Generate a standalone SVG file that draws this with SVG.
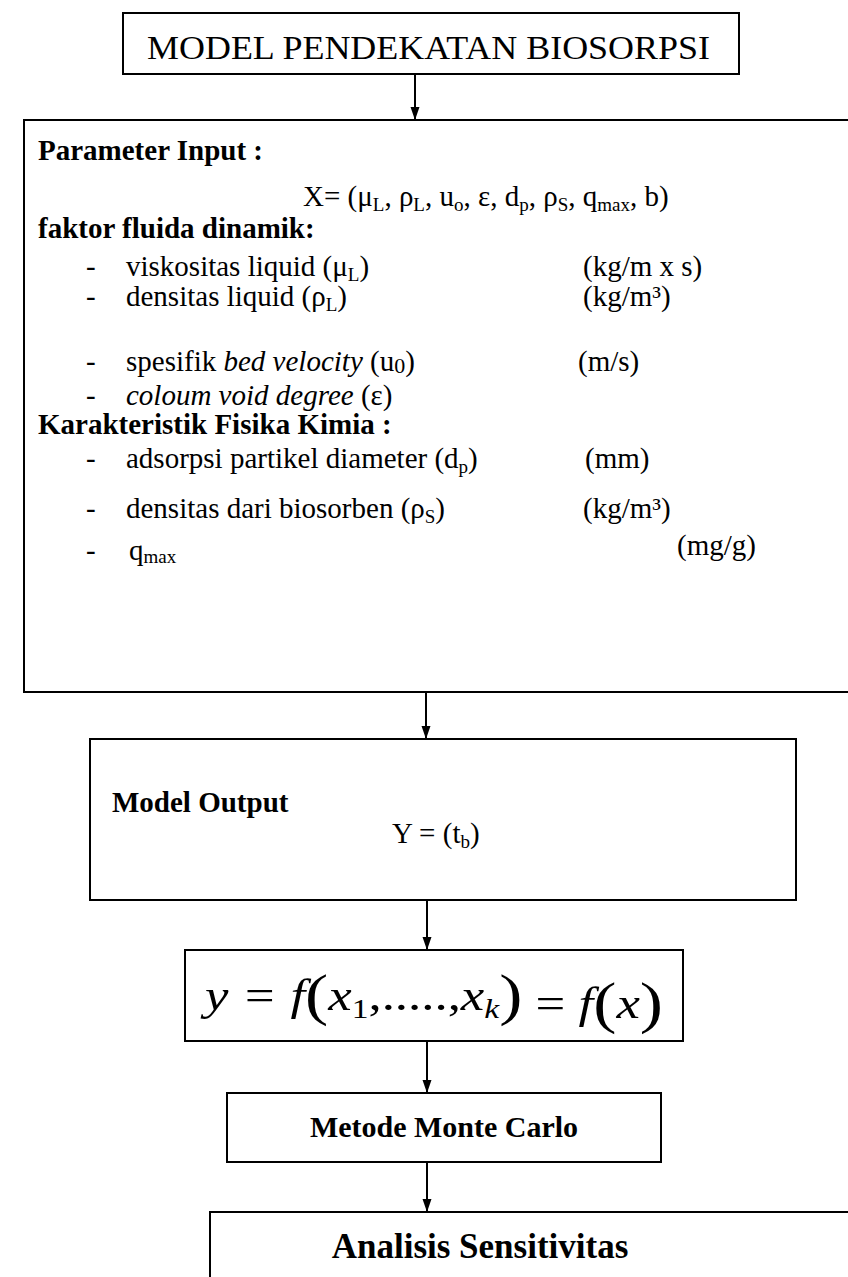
<svg xmlns="http://www.w3.org/2000/svg" width="848" height="1277" viewBox="0 0 848 1277">
<style>
.box{fill:none;stroke:#000;stroke-width:2}
.t{font-family:"Liberation Serif","Times New Roman",serif;font-size:29px;fill:#000}
.b{font-weight:bold}
.i{font-style:italic}
.conn line{stroke:#000;stroke-width:2;marker-end:url(#ah)}
</style>
<defs>
<marker id="ah" markerUnits="userSpaceOnUse" markerWidth="14" markerHeight="10" refX="13" refY="4.5" orient="auto" viewBox="0 0 14 10">
<path d="M0,0 L13,4.5 L0,9 Z" fill="#000"/>
</marker>
</defs>
<rect width="848" height="1277" fill="#fff"/>

<g id="node-title">
<rect class="box" x="123" y="13" width="616" height="61"/>
<text class="t" x="147" y="59" style="font-size:34px" textLength="563" lengthAdjust="spacingAndGlyphs">MODEL PENDEKATAN BIOSORPSI</text>
</g>

<g id="node-input">
<path class="box" d="M850,120 L24,120 L24,692 L850,692"/>
<text class="t b" x="38" y="160">Parameter Input :</text>
<text class="t" x="303" y="206">X= (μ<tspan font-size="19" dy="5">L</tspan><tspan dy="-5">, ρ</tspan><tspan font-size="19" dy="5">L</tspan><tspan dy="-5">, u</tspan><tspan font-size="19" dy="5">o</tspan><tspan dy="-5">, ε, d</tspan><tspan font-size="19" dy="5">p</tspan><tspan dy="-5">, ρ</tspan><tspan font-size="19" dy="5">S</tspan><tspan dy="-5">, q</tspan><tspan font-size="19" dy="5">max</tspan><tspan dy="-5">, b)</tspan></text>
<text class="t b" x="38" y="238">faktor fluida dinamik:</text>
<text class="t" x="86" y="276">-</text>
<text class="t" x="126" y="276">viskositas liquid (μ<tspan font-size="19" dy="5">L</tspan><tspan dy="-5">)</tspan></text>
<text class="t" x="583" y="276">(kg/m x s)</text>
<text class="t" x="86" y="306">-</text>
<text class="t" x="126" y="306">densitas liquid  (ρ<tspan font-size="19" dy="5">L</tspan><tspan dy="-5">)</tspan></text>
<text class="t" x="583" y="306">(kg/m³)</text>
<text class="t" x="86" y="371">-</text>
<text class="t" x="126" y="371">spesifik <tspan class="i">bed velocity</tspan> (u<tspan font-size="22" dy="2">0</tspan><tspan dy="-2">)</tspan></text>
<text class="t" x="578" y="371">(m/s)</text>
<text class="t" x="86" y="405">-</text>
<text class="t" x="126" y="405"><tspan class="i">coloum void degree</tspan> (ε)</text>
<text class="t b" x="38" y="434">Karakteristik Fisika Kimia :</text>
<text class="t" x="86" y="468">-</text>
<text class="t" x="126" y="468">adsorpsi partikel diameter (d<tspan font-size="19" dy="5">p</tspan><tspan dy="-5">)</tspan></text>
<text class="t" x="585" y="468">(mm)</text>
<text class="t" x="86" y="518">-</text>
<text class="t" x="126" y="518">densitas dari biosorben (ρ<tspan font-size="19" dy="5">S</tspan><tspan dy="-5">)</tspan></text>
<text class="t" x="583" y="518">(kg/m³)</text>
<text class="t" x="86" y="560">-</text>
<text class="t" x="129" y="560">q<tspan font-size="19" dy="3">max</tspan></text>
<text class="t" x="677" y="555">(mg/g)</text>
</g>

<g id="node-output">
<rect class="box" x="90" y="739" width="706" height="161"/>
<text class="t b" x="112" y="812">Model Output</text>
<text class="t" x="392" y="843">Y = (t<tspan font-size="19" dy="5">b</tspan><tspan dy="-5">)</tspan></text>
</g>

<g id="node-formula">
<rect class="box" x="185" y="950" width="498" height="91"/>
<text class="t i" x="205" y="1010" style="font-size:44px" textLength="458" lengthAdjust="spacingAndGlyphs">y = f<tspan font-style="normal" font-size="58" dy="4">(</tspan><tspan dy="-4">x</tspan><tspan font-style="normal" font-size="28" dy="8">1</tspan><tspan font-style="normal" dy="-8">,.....,</tspan>x<tspan font-size="28" dy="8">k</tspan><tspan font-style="normal" font-size="58" dy="-4">)</tspan><tspan dy="4" font-style="normal"> =</tspan> f<tspan font-style="normal" font-size="58" dy="4">(</tspan><tspan dy="-4">x</tspan><tspan font-style="normal" font-size="58" dy="4">)</tspan></text>
</g>

<g id="node-montecarlo">
<rect class="box" x="227" y="1093" width="434" height="69"/>
<text class="t b" x="444" y="1137" text-anchor="middle" style="font-size:30px">Metode Monte Carlo</text>
</g>

<g id="node-sensitivitas">
<path class="box" d="M210,1280 L210,1212 L850,1212"/>
<text class="t b" x="480" y="1258" text-anchor="middle" style="font-size:35px">Analisis Sensitivitas</text>
</g>

<g id="connectors" class="conn">
<line x1="415" y1="74" x2="415" y2="120"/>
<line x1="426" y1="692" x2="426" y2="739"/>
<line x1="427" y1="900" x2="427" y2="950"/>
<line x1="427" y1="1041" x2="427" y2="1093"/>
<line x1="427" y1="1162" x2="427" y2="1212"/>
</g>
</svg>
